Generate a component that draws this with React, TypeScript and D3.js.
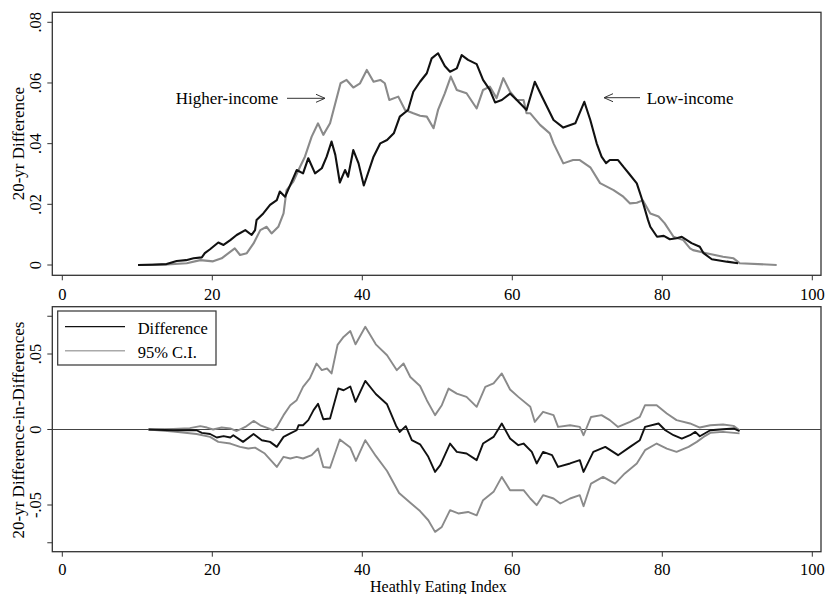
import React from 'react';
import * as d3 from 'd3';

// top panel: 20-yr difference by income group, [HEI, value]
const lowIncome: [number, number][] = [
  [10.1, 0], [12.0, 0.0001], [13.9, 0.0003], [15.25, 0.0013], [16.5, 0.0016], [17.5, 0.0022],
  [18.6, 0.0025], [19.0, 0.0039], [19.7, 0.0052], [20.8, 0.0074], [21.5, 0.0066], [22.4, 0.0082],
  [23.25, 0.0099], [24.4, 0.0115], [25.25, 0.0099], [25.7, 0.0115], [25.9, 0.0148], [26.8, 0.017],
  [27.7, 0.0198], [28.6, 0.0214], [29.0, 0.0242], [29.7, 0.0225], [30.4, 0.0264], [31.25, 0.0313],
  [32.1, 0.0302], [32.8, 0.0352], [33.7, 0.0302], [34.6, 0.0319], [35.25, 0.0357], [35.9, 0.0407],
  [36.4, 0.0363], [37.0, 0.0272], [37.7, 0.0313], [38.1, 0.0291], [38.8, 0.0379], [39.5, 0.0335],
  [40.2, 0.0262], [40.6, 0.0291], [41.5, 0.0357], [42.4, 0.0401], [43.3, 0.0412], [44.2, 0.0434],
  [45.0, 0.0489], [46.1, 0.0511], [46.8, 0.0571], [47.7, 0.0604], [48.6, 0.0632], [49.25, 0.0681],
  [50.1, 0.0698], [51.0, 0.0656], [51.7, 0.0637], [52.6, 0.0648], [53.25, 0.0692], [54.1, 0.0676],
  [55.25, 0.0662], [56.1, 0.061], [57.0, 0.0577], [57.7, 0.0536], [58.6, 0.0544], [59.7, 0.0565],
  [60.6, 0.0544], [61.9, 0.0511], [63.0, 0.0604], [63.9, 0.0558], [65.5, 0.0478], [66.8, 0.0453],
  [68.4, 0.0467], [69.6, 0.0538], [70.4, 0.0478], [71.25, 0.0401], [71.9, 0.0357], [72.5, 0.0336],
  [73.0, 0.0346], [74.1, 0.0346], [74.8, 0.0324], [75.6, 0.03], [76.6, 0.0269], [77.25, 0.022],
  [78.1, 0.0148], [78.4, 0.0126], [79.3, 0.0093], [80.2, 0.0096], [81.0, 0.0085], [81.9, 0.0088],
  [82.6, 0.0093], [83.9, 0.0072], [85.0, 0.006], [85.5, 0.0039], [86.6, 0.0019], [88.6, 0.0011],
  [90.1, 0.0006],
];

const higherIncome: [number, number][] = [
  [10.1, 0], [14.0, 0.0002], [16.6, 0.0006], [18.4, 0.0016], [20.1, 0.0012], [21.25, 0.0022],
  [23.0, 0.0055], [23.7, 0.0033], [24.6, 0.0039], [25.5, 0.0071], [26.4, 0.0115], [27.25, 0.0126],
  [27.9, 0.0104], [28.8, 0.0126], [29.5, 0.017], [29.9, 0.0247], [30.8, 0.0275], [31.7, 0.0324],
  [32.35, 0.0357], [33.25, 0.0423], [34.1, 0.0467], [34.8, 0.0429], [35.7, 0.0467], [36.4, 0.0533],
  [37.1, 0.0599], [37.9, 0.061], [38.8, 0.0585], [39.7, 0.0599], [40.6, 0.0643], [41.5, 0.0604],
  [42.4, 0.061], [43.0, 0.0599], [43.6, 0.0544], [44.8, 0.0555], [45.7, 0.0511], [46.8, 0.05],
  [47.7, 0.0492], [48.6, 0.0489], [49.5, 0.0451], [50.1, 0.0511], [51.0, 0.0566], [51.8, 0.0621],
  [52.6, 0.0577], [53.9, 0.0566], [55.25, 0.0516], [56.1, 0.0577], [57.0, 0.0588], [57.9, 0.055],
  [58.8, 0.0616], [59.7, 0.0571], [60.6, 0.0544], [61.5, 0.0544], [61.9, 0.05], [62.4, 0.05],
  [63.7, 0.0462], [65.0, 0.0434], [65.5, 0.0401], [66.8, 0.0335], [68.1, 0.0346], [69.0, 0.0346],
  [70.4, 0.0322], [71.7, 0.027], [73.5, 0.0247], [74.8, 0.0225], [75.7, 0.0203], [76.6, 0.0205],
  [77.4, 0.0213], [78.4, 0.017], [79.5, 0.016], [80.3, 0.0138], [81.5, 0.0093], [82.8, 0.0082],
  [83.7, 0.0055], [84.1, 0.0049], [85.9, 0.0039], [88.1, 0.0027], [89.5, 0.0022], [90.3, 0.0006],
  [95.25, 0],
];

// bottom panel: difference-in-differences and its 95% CI
const didDiff: [number, number][] = [
  [11.5, 0], [14.8, -0.0005], [17.9, -0.0005], [18.6, -0.0022], [19.7, -0.003], [20.6, -0.0053],
  [21.5, -0.0044], [22.4, -0.0053], [22.8, -0.0038], [24.1, -0.0082], [25.5, -0.003], [26.6, -0.0071],
  [27.7, -0.0082], [28.6, -0.0115], [29.5, -0.0049], [30.4, -0.0026], [31.25, -0.0005], [31.5, 0.0028],
  [32.1, 0.0028], [32.8, 0.0062], [33.5, 0.0128], [34.1, 0.017], [34.8, 0.0068], [35.7, 0.0073],
  [36.8, 0.0272], [37.5, 0.026], [38.4, 0.0285], [39.1, 0.0183], [40.4, 0.0322], [41.8, 0.0235],
  [43.3, 0.0167], [44.5, 0.0025], [45.0, -0.0016], [45.8, 0.0022], [46.6, -0.007], [47.7, -0.0098],
  [48.8, -0.0181], [49.7, -0.0281], [50.4, -0.0236], [51.7, -0.0093], [52.6, -0.0148], [53.9, -0.0159],
  [55.25, -0.0203], [56.1, -0.0093], [57.5, -0.0049], [58.6, 0.004], [59.7, -0.006], [60.8, -0.0104],
  [61.5, -0.0093], [62.6, -0.0148], [63.25, -0.0225], [64.1, -0.0148], [65.3, -0.017], [66.1, -0.0248],
  [67.7, -0.0225], [69.0, -0.0203], [69.5, -0.0281], [70.8, -0.0148], [72.4, -0.0115], [74.1, -0.017],
  [75.7, -0.0115], [77.0, -0.0071], [77.7, 0.0017], [79.5, 0.004], [80.4, -0.0005], [81.5, -0.0038],
  [82.6, -0.006], [83.7, -0.0038], [84.4, -0.0016], [85.0, -0.0045], [86.4, -0.0005], [88.1, 0.0002],
  [89.5, 0.0007], [90.3, -0.001],
];

const ciUpper: [number, number][] = [
  [11.5, 0], [14.8, 0.0004], [17.0, 0.0009], [18.4, 0.0022], [19.3, 0.0013], [20.1, 0],
  [21.25, 0.0013], [22.4, 0.0007], [23.25, -0.001], [24.4, 0.0017], [25.5, 0.0057], [26.4, 0.0028],
  [27.5, 0.0007], [28.1, -0.0005], [28.6, 0.0017], [29.5, 0.0095], [30.4, 0.0161], [31.25, 0.0194],
  [32.1, 0.0282], [33.0, 0.0338], [33.9, 0.0437], [34.6, 0.0393], [35.3, 0.0404], [35.9, 0.0371],
  [36.7, 0.056], [37.5, 0.0613], [38.4, 0.0652], [39.1, 0.0564], [40.4, 0.068], [41.8, 0.0564],
  [43.3, 0.0492], [44.6, 0.0393], [45.5, 0.0437], [46.4, 0.0348], [47.7, 0.0288], [48.6, 0.0194],
  [49.7, 0.0095], [50.6, 0.0161], [51.5, 0.0271], [52.6, 0.0238], [53.9, 0.0216], [55.25, 0.015],
  [56.4, 0.0282], [57.5, 0.0305], [58.6, 0.0371], [59.7, 0.0265], [60.8, 0.0216], [62.4, 0.015],
  [63.0, 0.005], [64.1, 0.0117], [65.5, 0.0095], [66.1, 0.0017], [67.7, 0.0028], [69.0, 0.0017],
  [69.5, -0.0038], [70.5, 0.0083], [71.9, 0.0095], [73.0, 0.0062], [74.1, 0.0017], [75.7, 0.005],
  [77.0, 0.0083], [77.7, 0.0161], [79.25, 0.0161], [80.6, 0.0106], [81.9, 0.0062], [83.7, 0.004],
  [85.0, 0.0013], [86.4, 0.0028], [88.1, 0.0033], [89.5, 0.0024], [90.3, -0.0005],
];

const ciLower: [number, number][] = [
  [11.5, 0], [14.8, -0.0013], [17.9, -0.003], [19.7, -0.0049], [20.8, -0.0082], [22.4, -0.0093],
  [23.7, -0.0115], [24.8, -0.0126], [25.7, -0.012], [27.0, -0.0159], [28.6, -0.0248], [29.5, -0.0181],
  [30.4, -0.0192], [31.25, -0.0181], [32.1, -0.0192], [33.25, -0.017], [34.1, -0.0126], [34.8, -0.0248],
  [35.7, -0.0253], [37.0, -0.0066], [38.4, -0.012], [39.15, -0.0208], [40.4, -0.0071], [41.8, -0.0175],
  [43.3, -0.0275], [44.9, -0.042], [46.4, -0.0485], [47.7, -0.054], [48.8, -0.0601], [49.7, -0.0678],
  [50.6, -0.0645], [51.7, -0.0534], [52.8, -0.0556], [54.1, -0.0546], [55.25, -0.0568], [56.1, -0.0468],
  [57.5, -0.0413], [58.6, -0.0314], [59.7, -0.0402], [61.5, -0.0402], [62.4, -0.0457], [63.25, -0.0501],
  [64.1, -0.0435], [65.5, -0.0457], [66.4, -0.049], [67.7, -0.0457], [69.0, -0.0435], [69.5, -0.0508],
  [70.5, -0.0358], [72.1, -0.0314], [73.7, -0.0358], [75.0, -0.0291], [76.6, -0.0225], [77.7, -0.0137],
  [79.25, -0.0093], [80.6, -0.0126], [81.9, -0.0148], [83.5, -0.0115], [84.6, -0.0082], [85.5, -0.0049],
  [86.4, -0.0022], [88.1, -0.0016], [90.3, -0.0026],
];

const xTicks = [0, 20, 40, 60, 80, 100];
const topYTicks = [0, 0.02, 0.04, 0.06, 0.08];
const topYLabels = ['0', '.02', '.04', '.06', '.08'];
const botYTicks = [-0.05, 0, 0.05];
const botYLabels = ['-.05', '0', '.05'];
const botYMinor = [-0.075, 0.075];

const FONT = '"Liberation Serif", "Times New Roman", serif';
const AXIS = '#333';
const GREY = '#8a8a8a';

const left = 52.3, right = 821;

export default function App() {
  const x = d3.scaleLinear().domain([0, 100]).range([62.3, 812.3]);
  const yTop = d3.scaleLinear().domain([0, 0.08]).range([265, 22.3]);
  const yBot = d3.scaleLinear().domain([-0.05, 0.05]).range([505, 354]);

  const lineTop = d3.line<[number, number]>().x(d => x(d[0])).y(d => yTop(d[1]));
  const lineBot = d3.line<[number, number]>().x(d => x(d[0])).y(d => yBot(d[1]));

  const panels = [
    { top: 12.3, bottom: 275.3, y: yTop, ticks: topYTicks, labels: topYLabels, minor: [] as number[], labelY: 294 },
    { top: 306.7, bottom: 551.7, y: yBot, ticks: botYTicks, labels: botYLabels, minor: botYMinor, labelY: 569.5 },
  ];

  return (
    <svg width={827} height={594} style={{ position: 'absolute', left: 0, top: 0, background: '#fff' }}
      fontFamily={FONT}>
      <rect x={0} y={0} width={827} height={594} fill="#fff" />
      {panels.map((p, pi) => (
        <g key={pi}>
          <rect x={left} y={p.top} width={right - left} height={p.bottom - p.top} fill="none" stroke={AXIS} strokeWidth={1.3} />
          {xTicks.map(t => (
            <g key={t}>
              <line x1={x(t)} x2={x(t)} y1={p.bottom} y2={p.bottom + 5} stroke={AXIS} />
              <text x={x(t)} y={p.labelY} textAnchor="middle" dominantBaseline="central" fontSize={16.5}>{t}</text>
            </g>
          ))}
          {p.ticks.map((t, i) => (
            <g key={t}>
              <line x1={left - 5} x2={left} y1={p.y(t)} y2={p.y(t)} stroke={AXIS} />
              <text transform={`translate(35,${p.y(t)}) rotate(-90)`} textAnchor="middle" dominantBaseline="central" fontSize={16.5}>{p.labels[i]}</text>
            </g>
          ))}
          {p.minor.map(t => (
            <line key={t} x1={left - 5} x2={left} y1={p.y(t)} y2={p.y(t)} stroke={AXIS} />
          ))}
        </g>
      ))}

      {/* top panel */}
      <path d={lineTop(higherIncome) ?? ''} fill="none" stroke={GREY} strokeWidth={2.1} strokeLinejoin="round" />
      <path d={lineTop(lowIncome) ?? ''} fill="none" stroke="#111" strokeWidth={2.1} strokeLinejoin="round" />
      <text transform="translate(18,143.6) rotate(-90)" textAnchor="middle" dominantBaseline="central" fontSize={17}>20-yr Difference</text>

      <text x={175.7} y={98.5} dominantBaseline="central" fontSize={17}>Higher-income</text>
      <g stroke="#333" strokeWidth={1} fill="none">
        <line x1={287} x2={325} y1={98.3} y2={98.3} />
        <polyline points="316,94.3 325,98.3 316,102.3" />
        <line x1={604} x2={640} y1={97.7} y2={97.7} />
        <polyline points="613,93.7 604,97.7 613,101.7" />
      </g>
      <text x={646.7} y={98.5} dominantBaseline="central" fontSize={17}>Low-income</text>

      {/* bottom panel */}
      <line x1={left} x2={right} y1={yBot(0)} y2={yBot(0)} stroke="#444" strokeWidth={1} />
      <path d={lineBot(ciUpper) ?? ''} fill="none" stroke={GREY} strokeWidth={1.9} strokeLinejoin="round" />
      <path d={lineBot(ciLower) ?? ''} fill="none" stroke={GREY} strokeWidth={1.9} strokeLinejoin="round" />
      <path d={lineBot(didDiff) ?? ''} fill="none" stroke="#111" strokeWidth={1.9} strokeLinejoin="round" />
      <text transform="translate(18,430) rotate(-90)" textAnchor="middle" dominantBaseline="central" fontSize={17}>20-yr Difference-in-Differences</text>

      <rect x={57.7} y={311} width={158.3} height={54} fill="#fff" stroke={AXIS} strokeWidth={1.2} />
      <line x1={65} x2={125} y1={326.7} y2={326.7} stroke="#111" strokeWidth={1.2} />
      <line x1={65} x2={125} y1={350.7} y2={350.7} stroke="#aaa" strokeWidth={1.5} />
      <text x={137.7} y={328} dominantBaseline="central" fontSize={16.5}>Difference</text>
      <text x={137.7} y={352} dominantBaseline="central" fontSize={16.5}>95% C.I.</text>

      <text x={370} y={586} dominantBaseline="central" fontSize={16}>Heathly Eating Index</text>
    </svg>
  );
}
